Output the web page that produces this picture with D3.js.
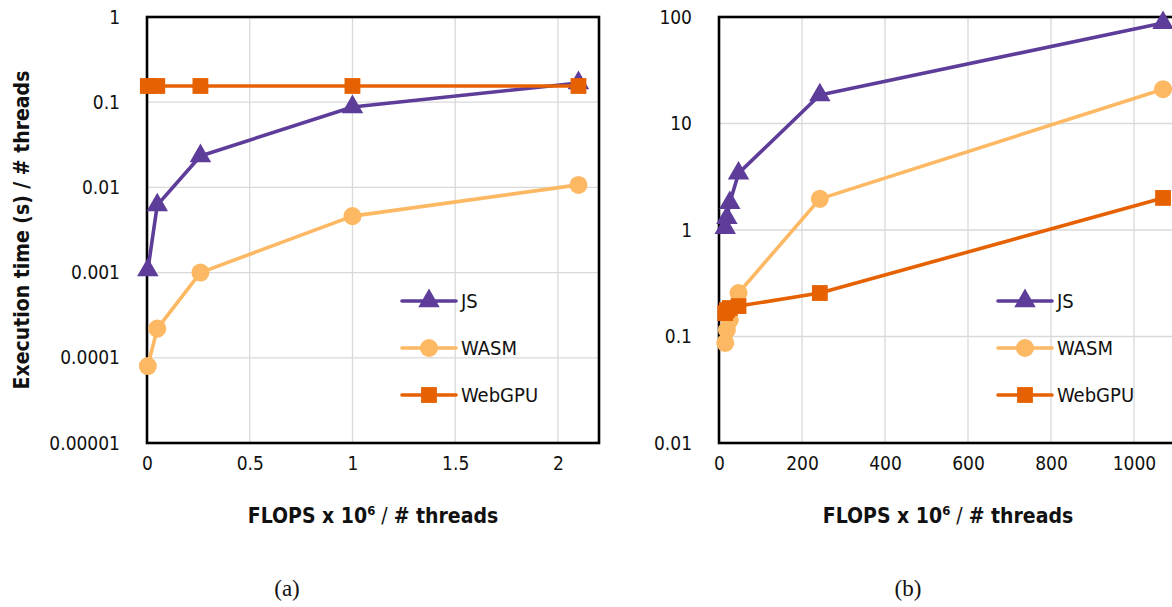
<!DOCTYPE html>
<html>
<head>
<meta charset="utf-8">
<script src="https://cdn.jsdelivr.net/npm/d3@7"></script>
<style>
    body { margin: 0; background: #fff; }
    svg { display: block; }
    .tick text { font-family: "Liberation Sans Narrow", "DejaVu Sans Condensed", sans-serif; font-size: 19px; fill: #111; }
    .grid line { stroke: #d9d9d9; stroke-width: 1.3; }
    .lbl { font-family: "Liberation Sans Narrow", "DejaVu Sans Condensed", sans-serif; fill: #111; }
    .title { font-family: "Liberation Sans Narrow", "DejaVu Sans Condensed", sans-serif; font-weight: bold; font-size: 21px; fill: #111; }
    .cap { font-family: "Liberation Serif", "Times New Roman", serif; font-size: 23px; fill: #111; }
</style>
</head>
<body>
<div id="chart"></div>
<script>

// panel (a)
let leftFlops = [0.004, 0.05, 0.26, 1.0, 2.1];
let leftJs = [0.00107, 0.0062, 0.0234, 0.088, 0.168];
let leftWasm = [0.00008, 0.00022, 0.001, 0.0046, 0.0107];
let leftWebgpu = [0.155, 0.155, 0.155, 0.155, 0.155];
let leftXTicks = [0, 0.5, 1, 1.5, 2];
let leftYTicks = [1, 0.1, 0.01, 0.001, 0.0001, 0.00001];

// panel (b)
let rightFlops = [15, 19, 26, 47, 243, 1070];
let rightJs = [1.05, 1.3, 1.8, 3.4, 18.5, 88];
let rightWasm = [0.087, 0.115, 0.143, 0.256, 1.96, 21];
let rightWebgpu = [0.166, 0.177, 0.185, 0.193, 0.256, 2.0];
let rightXTicks = [0, 200, 400, 600, 800, 1000];
let rightYTicks = [100, 10, 1, 0.1, 0.01];

let seriesNames = ["JS", "WASM", "WebGPU"];
let colors = { JS: "#5e3c99", WASM: "#fdb863", WebGPU: "#e66101" };
let symbols = { JS: d3.symbolTriangle, WASM: d3.symbolCircle, WebGPU: d3.symbolSquare };
let symSize = { JS: 200, WASM: 255, WebGPU: 250 };

let svg = d3.select("#chart").append("svg")
    .attr("width", 1172)
    .attr("height", 607);

function drawPanel(opts) {

    let width = opts.width, height = opts.height;

    let x = d3.scaleLinear().domain(opts.xDomain).range([0, width]);
    let y = d3.scaleLog().domain(opts.yDomain).range([height, 0]);

    let g = svg.append("g")
        .attr("transform", `translate(${opts.left},${opts.top})`);

    // gridlines
    g.append("g").attr("class", "grid")
        .selectAll("line").data(opts.yTicks).enter().append("line")
        .attr("x1", 0).attr("x2", width)
        .attr("y1", d => y(d)).attr("y2", d => y(d));

    g.append("g").attr("class", "grid")
        .selectAll("line").data(opts.xTicks).enter().append("line")
        .attr("y1", 0).attr("y2", height)
        .attr("x1", d => x(d)).attr("x2", d => x(d));

    // axes
    let xAxis = d3.axisBottom(x)
        .tickValues(opts.xTicks)
        .tickSize(0)
        .tickPadding(14)
        .tickFormat(d3.format("~g"));

    g.append("g")
        .attr("transform", `translate(0,${height})`)
        .call(xAxis)
        .select(".domain").remove();

    let yAxis = d3.axisLeft(y)
        .tickValues(opts.yTicks)
        .tickSize(0)
        .tickPadding(27)
        .tickFormat(d3.format("~f"));

    g.append("g")
        .call(yAxis)
        .select(".domain").remove();

    // frame
    g.append("rect")
        .attr("x", 0).attr("y", 0)
        .attr("width", width).attr("height", height)
        .attr("fill", "none")
        .attr("stroke", "#000")
        .attr("stroke-width", 2.6);

    let line = d3.line()
        .x(d => x(d[0]))
        .y(d => y(d[1]));

    opts.series.forEach(s => {
        let pts = opts.flops.map((f, i) => [f, s.values[i]]);

        g.append("path")
            .datum(pts)
            .attr("fill", "none")
            .attr("stroke", colors[s.name])
            .attr("stroke-width", 3.6)
            .attr("stroke-linejoin", "round")
            .attr("d", line);

        g.selectAll(null).data(pts).enter().append("path")
            .attr("transform", d => `translate(${x(d[0])},${y(d[1])})`)
            .attr("d", d3.symbol().type(symbols[s.name]).size(symSize[s.name]))
            .attr("fill", colors[s.name]);
    });

    // legend
    let leg = g.append("g")
        .attr("transform", `translate(${opts.legendX},${opts.legendY})`);

    seriesNames.forEach((name, i) => {
        let row = leg.append("g").attr("transform", `translate(0,${i * 47})`);
        row.append("line")
            .attr("x1", 0).attr("x2", 54)
            .attr("stroke", colors[name])
            .attr("stroke-width", 3.6)
            .attr("stroke-linecap", "round");
        row.append("path")
            .attr("transform", "translate(27,0)")
            .attr("d", d3.symbol().type(symbols[name]).size(symSize[name]))
            .attr("fill", colors[name]);
        row.append("text")
            .attr("class", "lbl")
            .attr("x", 59)
            .attr("dy", "0.36em")
            .style("font-size", "20px")
            .text(name);
    });

    // x title
    let xt = svg.append("text")
        .attr("class", "title")
        .attr("x", opts.left + opts.titleX)
        .attr("y", 523)
        .attr("text-anchor", "middle");
    xt.append("tspan").text("FLOPS x 10");
    xt.append("tspan").attr("dy", -8).style("font-size", "13px").text("6");
    xt.append("tspan").attr("dy", 8).style("font-weight", "normal").text(" / ");
    xt.append("tspan").text("# threads");

    svg.append("text")
        .attr("class", "cap")
        .attr("x", opts.captionX)
        .attr("y", 596)
        .attr("text-anchor", "middle")
        .text(opts.caption);
}

drawPanel({
    left: 147, top: 17, width: 452, height: 426,
    xDomain: [0, 2.2], yDomain: [0.00001, 1],
    xTicks: leftXTicks, yTicks: leftYTicks,
    flops: leftFlops,
    series: [
        { name: "JS", values: leftJs },
        { name: "WASM", values: leftWasm },
        { name: "WebGPU", values: leftWebgpu }
    ],
    legendX: 255, legendY: 284,
    titleX: 226,
    captionX: 287,
    caption: "(a)"
});

drawPanel({
    left: 719, top: 17, width: 498, height: 426,
    xDomain: [0, 1200], yDomain: [0.01, 100],
    xTicks: rightXTicks, yTicks: rightYTicks,
    flops: rightFlops,
    series: [
        { name: "JS", values: rightJs },
        { name: "WASM", values: rightWasm },
        { name: "WebGPU", values: rightWebgpu }
    ],
    legendX: 279, legendY: 284,
    titleX: 229,
    captionX: 908,
    caption: "(b)"
});

// y title for panel (a)
svg.append("text")
    .attr("class", "title")
    .attr("transform", "translate(29,230) rotate(-90)")
    .attr("text-anchor", "middle")
    .text("Execution time (s) / # threads");

</script>
</body>
</html>
